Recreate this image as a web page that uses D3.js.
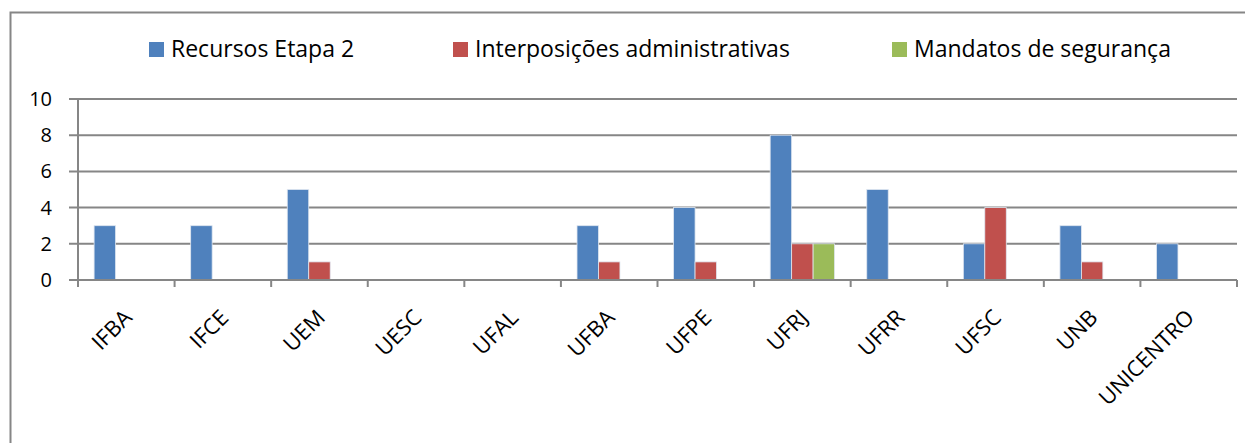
<!DOCTYPE html>
<html>
<head>
<meta charset="utf-8">
<script src="https://d3js.org/d3.v7.min.js"></script>
<style>
  body { margin: 0; background: #fff; }
  svg text { font-family: "Open Sans", sans-serif; fill: #000; }
</style>
</head>
<body>
<div id="chart"></div>
<script>
var categories = ["IFBA", "IFCE", "UEM", "UESC", "UFAL", "UFBA", "UFPE", "UFRJ", "UFRR", "UFSC", "UNB", "UNICENTRO"]
var seriesNames = ["Recursos Etapa 2", "Interposições administrativas", "Mandatos de segurança"]
var recursos = [3, 3, 5, 0, 0, 3, 4, 8, 5, 2, 3, 2]
var interposicoes = [0, 0, 1, 0, 0, 1, 1, 2, 0, 4, 1, 0]
var mandatos = [0, 0, 0, 0, 0, 0, 0, 2, 0, 0, 0, 0]
var yTicks = [0, 2, 4, 6, 8, 10]
var colors = ["#4F81BD", "#C0504D", "#9BBB59"]

var width = 1245, height = 443
var svg = d3.select("#chart").append("svg")
    .attr("width", width).attr("height", height)

// outer frame
svg.append("path")
    .attr("d", "M10.5," + height + "V12.5H" + width)
    .attr("fill", "none").attr("stroke", "#868686").attr("stroke-width", 2)

var plotL = 78, plotR = 1237, plotT = 99, plotB = 280

var x = d3.scaleBand().domain(categories).range([plotL, plotR])
var y = d3.scaleLinear().domain([0, 10]).range([plotB, plotT])

var barW = x.bandwidth() / 4.5
var data = [recursos, interposicoes, mandatos]

// gridlines
svg.selectAll(".grid").data(yTicks).enter().append("line")
    .attr("x1", plotL - 9).attr("x2", plotR)
    .attr("y1", function(d) { return y(d) }).attr("y2", function(d) { return y(d) })
    .attr("stroke", "#868686").attr("stroke-width", 2)

// bars
data.forEach(function(vals, s) {
    var pts = vals.map(function(v, i) { return { cat: categories[i], v: v } })
        .filter(function(d) { return d.v > 0 })
    svg.selectAll(".bar" + s).data(pts).enter().append("rect")
        .attr("x", function(d) { return x(d.cat) + barW * 0.75 + s * barW })
        .attr("y", function(d) { return y(d.v) })
        .attr("width", barW)
        .attr("height", function(d) { return plotB - y(d.v) })
        .attr("fill", colors[s])
        .attr("stroke", "#dfe6f0").attr("stroke-width", 0.8)
})

// redraw base line on top of bars
svg.append("line").attr("x1", plotL - 9).attr("x2", plotR)
    .attr("y1", plotB).attr("y2", plotB)
    .attr("stroke", "#868686").attr("stroke-width", 2)

// y axis line
svg.append("line").attr("x1", plotL).attr("x2", plotL)
    .attr("y1", plotT).attr("y2", plotB + 7)
    .attr("stroke", "#868686").attr("stroke-width", 2)

// category ticks
svg.selectAll(".xtick").data(categories.concat(["_end"])).enter().append("line")
    .attr("x1", function(d, i) { return plotL + i * x.step() })
    .attr("x2", function(d, i) { return plotL + i * x.step() })
    .attr("y1", plotB).attr("y2", plotB + 7)
    .attr("stroke", "#868686").attr("stroke-width", 2)

// y labels
svg.selectAll(".ylab").data(yTicks).enter().append("text")
    .attr("x", 52).attr("y", function(d) { return y(d) + 7 })
    .attr("text-anchor", "end").style("font-size", "20px")
    .text(function(d) { return d })

// x labels
svg.selectAll(".xlab").data(categories).enter().append("text")
    .attr("transform", function(d) {
        return "translate(" + (x(d) + x.bandwidth() / 2 + 7) + "," + (plotB + 39) + ") rotate(-45)"
    })
    .attr("text-anchor", "end").style("font-size", "22px")
    .text(function(d) { return d })

// legend
var legendX = [149, 453, 892]
seriesNames.forEach(function(name, s) {
    svg.append("rect").attr("x", legendX[s]).attr("y", 42)
        .attr("width", 15).attr("height", 15).attr("fill", colors[s])
    svg.append("text").attr("x", legendX[s] + 22).attr("y", 57)
        .style("font-size", "23px").text(name)
})
</script>
</body>
</html>
